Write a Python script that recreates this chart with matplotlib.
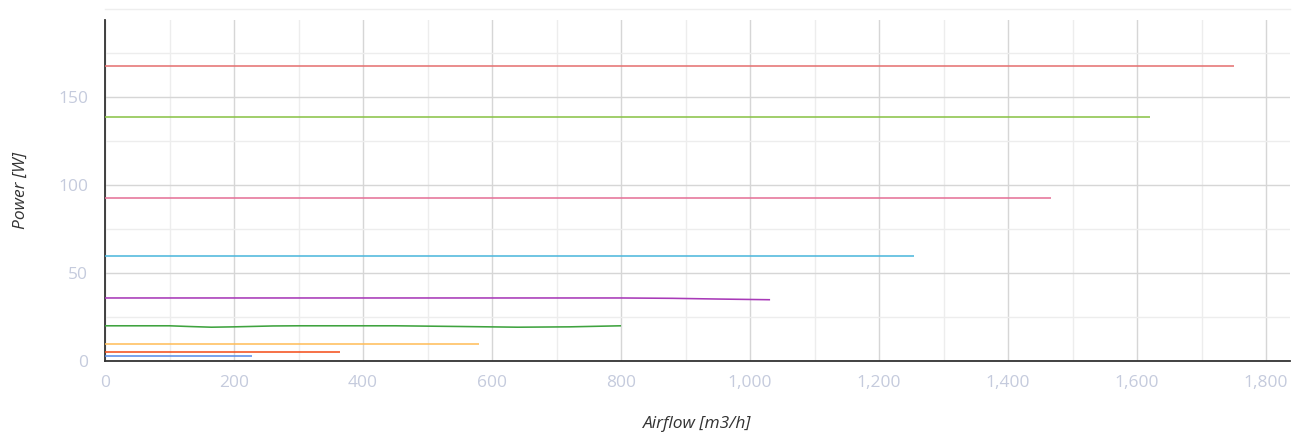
import matplotlib
matplotlib.use("Agg")
import matplotlib.pyplot as plt
from matplotlib.ticker import MultipleLocator, FuncFormatter
from matplotlib.lines import Line2D

plt.rcParams['font.family'] = ['Open Sans', 'DejaVu Sans']

# Series: (airflow points, power points, colour)
s1_x = [0, 1750]; s1_y = [167.6, 167.6]
s2_x = [0, 1620]; s2_y = [138.6, 138.6]
s3_x = [0, 1467]; s3_y = [92.6, 92.6]
s4_x = [0, 1254]; s4_y = [59.7, 59.7]
s5_x = [0, 600, 800, 880, 950, 1031]; s5_y = [35.8, 35.8, 35.8, 35.6, 35.2, 34.8]
s6_x = [0, 100, 130, 165, 200, 260, 300, 450, 550, 640, 720, 800]
s6_y = [20, 20, 19.6, 19.2, 19.4, 19.9, 20, 20, 19.6, 19.2, 19.4, 20]
s7_x = [0, 580]; s7_y = [9.7, 9.7]
s8_x = [0, 364]; s8_y = [5.1, 5.1]
s9_x = [0, 228]; s9_y = [2.8, 2.8]

series = [
    (s1_x, s1_y, '#e57373'),
    (s2_x, s2_y, '#8bc34a'),
    (s3_x, s3_y, '#e57399'),
    (s4_x, s4_y, '#4fb8dd'),
    (s5_x, s5_y, '#a83ab8'),
    (s6_x, s6_y, '#3fa33f'),
    (s7_x, s7_y, '#ffbe5c'),
    (s8_x, s8_y, '#f4511e'),
    (s9_x, s9_y, '#5b8ee6'),
]

fig = plt.figure(figsize=(13.01, 4.37), dpi=100)
ax = fig.add_axes([105/1301, 76/437, (1290-105)/1301, (361-20)/437])

for xs, ys, c in series:
    ax.plot(xs, ys, color=c, lw=1.15, solid_capstyle='butt', zorder=3)

ax.set_xlim(0, 1837)
ax.set_ylim(0, 193.7)
ax.xaxis.set_major_locator(MultipleLocator(200))
ax.xaxis.set_minor_locator(MultipleLocator(100))
ax.yaxis.set_major_locator(MultipleLocator(50))
ax.yaxis.set_minor_locator(MultipleLocator(25))
ax.xaxis.set_major_formatter(FuncFormatter(lambda v, p: f"{int(v):,}"))
ax.grid(which='major', color='#d6d6d6', lw=1.0, zorder=0)
ax.grid(which='minor', color='#ededed', lw=1.0, zorder=0)
ax.set_axisbelow(True)

for sp in ['top', 'right']:
    ax.spines[sp].set_visible(False)
for sp in ['left', 'bottom']:
    ax.spines[sp].set_color('#333333')
    ax.spines[sp].set_linewidth(1.3)

ax.tick_params(which='both', length=0, labelsize=12.5, colors='#c5cbdd', pad=12)
ax.tick_params(axis='x', pad=10)

ax.set_xlabel('Airflow [m3/h]', fontsize=12.5, style='italic', color='#333333', labelpad=18)
ax.set_ylabel('Power [W]', fontsize=12.5, style='italic', color='#333333', labelpad=21)

fig.add_artist(Line2D([105/1301, 1290/1301], [(437-9)/437]*2, color='#eeeeee', lw=1.0,
                      transform=fig.transFigure))

fig.savefig('out.png', dpi=100, facecolor='white')
